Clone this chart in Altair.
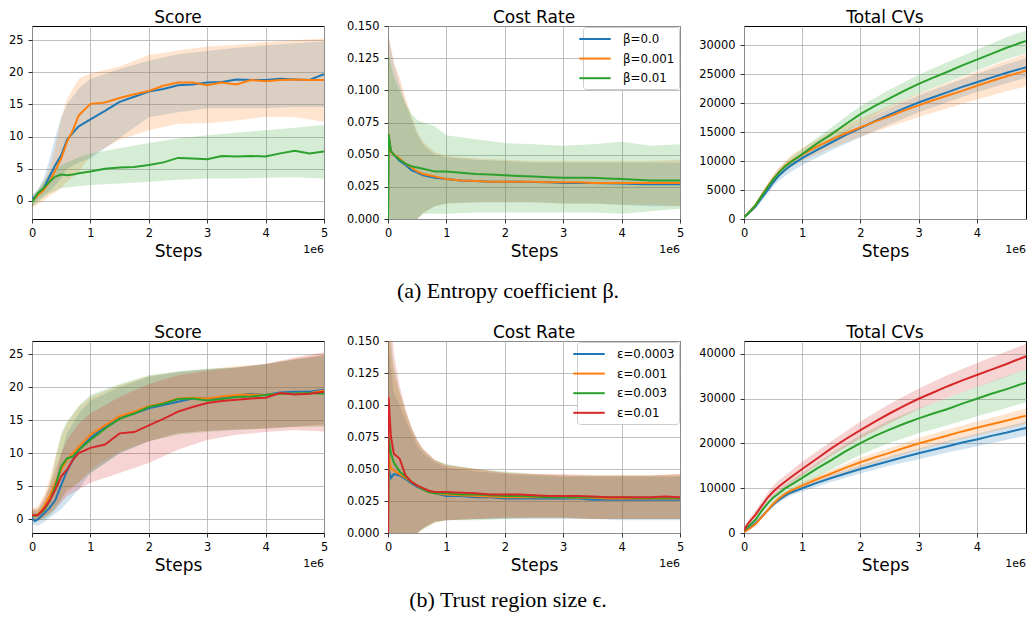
import altair as alt
import pandas as pd

# ---------------- x grids (steps, in units of 1e6) ----------------
STEPS = [0, 0.05, 0.1, 0.2, 0.3, 0.4, 0.5, 0.6, 0.7, 0.8, 1.0, 1.25, 1.5, 1.75, 2.0,
         2.25, 2.5, 2.75, 3.0, 3.25, 3.5, 3.75, 4.0, 4.25, 4.5, 4.75, 5.0]
COST_STEPS = [0, 0.01, 0.05, 0.1, 0.2, 0.3, 0.4, 0.5, 0.6, 0.7, 0.8, 1.0, 1.25, 1.5, 1.75,
              2.0, 2.25, 2.5, 2.75, 3.0, 3.25, 3.5, 3.75, 4.0, 4.25, 4.5, 4.75, 5.0]
BAND_STEPS = [0, 0.1, 0.2, 0.3, 0.4, 0.5, 0.6, 0.8, 1.0, 1.5, 2.0, 2.5, 3.0, 3.5, 4.0, 4.5, 5.0]

BETA_LABELS = ["β=0.0", "β=0.001", "β=0.01"]
EPS_LABELS = ["ε=0.0003", "ε=0.001", "ε=0.003", "ε=0.01"]
COLORS = ["#1f77b4", "#ff7f0e", "#2ca02c", "#d62728"]

PANEL_TITLES = ["Score", "Cost Rate", "Total CVs"]
X_TITLE = "Steps"
X_OFFSET_TEXT = "1e6"
CAPTION_A = "(a) Entropy coefficient β."
CAPTION_B = "(b) Trust region size ϵ."

X_TICKS = [0, 1, 2, 3, 4, 5]
SCORE_TICKS = [0, 5, 10, 15, 20, 25]
COST_TICKS = [0.0, 0.025, 0.05, 0.075, 0.1, 0.125, 0.15]
CV_TICKS_A = [0, 5000, 10000, 15000, 20000, 25000, 30000]
CV_TICKS_B = [0, 10000, 20000, 30000, 40000]

# ---------------- (a) Entropy coefficient: Score ----------------
A_SCORE_0 = [0.3, 0.6, 1.1, 2.0, 3.8, 5.6, 7.1, 9.5, 10.6, 11.6, 12.7, 14.0, 15.4, 16.2, 17.0,
             17.4, 18.0, 18.1, 18.4, 18.5, 18.9, 18.8, 18.8, 19.0, 18.9, 18.8, 19.7]
A_SCORE_1 = [0.0, 0.4, 0.9, 1.7, 3.0, 4.8, 6.6, 9.2, 11.0, 13.3, 15.1, 15.3, 16.0, 16.6, 17.1,
             17.9, 18.4, 18.4, 18.0, 18.4, 18.1, 18.8, 18.6, 18.8, 18.9, 18.8, 18.8]
A_SCORE_2 = [-0.1, 0.5, 1.2, 2.0, 3.0, 3.8, 4.1, 4.0, 4.1, 4.3, 4.6, 5.0, 5.2, 5.3, 5.6,
             6.0, 6.7, 6.6, 6.5, 7.0, 6.9, 7.0, 6.9, 7.4, 7.8, 7.4, 7.7]
A_SCORE_0_HI = [0.8, 1.8, 3.5, 6.5, 10.0, 13.0, 15.0, 17.5, 19.0, 20.5, 21.8, 22.8, 23.3, 23.8, 24.2, 24.5, 24.8]
A_SCORE_0_LO = [-0.8, 0.2, 0.8, 1.5, 2.5, 3.5, 5.0, 6.0, 6.6, 9.8, 13.0, 13.8, 14.4, 14.4, 14.4, 14.6, 14.6]
A_SCORE_1_HI = [0.5, 1.5, 3.0, 5.0, 8.5, 12.8, 15.9, 19.0, 19.8, 20.9, 22.7, 23.4, 24.0, 24.3, 24.7, 25.0, 25.3]
A_SCORE_1_LO = [-1.0, -0.5, 0.0, 0.8, 1.3, 2.0, 3.0, 4.5, 7.0, 9.5, 11.0, 12.0, 12.1, 12.5, 13.1, 13.0, 12.3]
A_SCORE_2_HI = [0.8, 1.8, 3.0, 4.3, 5.0, 5.6, 6.0, 6.8, 7.4, 8.2, 9.0, 9.7, 10.2, 10.6, 11.0, 11.4, 11.8]
A_SCORE_2_LO = [-1.0, -0.2, 0.5, 1.2, 1.6, 2.0, 2.1, 2.3, 2.5, 2.7, 3.0, 3.3, 3.5, 3.5, 3.6, 3.7, 3.5]

# ---------------- (a) Cost Rate ----------------
A_COST_0 = [0.0, 0.065, 0.052, 0.050, 0.045, 0.042, 0.038, 0.036, 0.034, 0.033, 0.032, 0.031, 0.030, 0.0295,
            0.029, 0.029, 0.029, 0.0288, 0.0285, 0.028, 0.028, 0.028, 0.0278, 0.0275, 0.0272, 0.027, 0.027, 0.027]
A_COST_1 = [0.0, 0.066, 0.052, 0.050, 0.047, 0.043, 0.040, 0.037, 0.035, 0.034, 0.033, 0.031, 0.030, 0.0295,
            0.029, 0.029, 0.029, 0.029, 0.0285, 0.0285, 0.0285, 0.028, 0.028, 0.028, 0.028, 0.028, 0.028, 0.028]
A_COST_2 = [0.0, 0.066, 0.053, 0.050, 0.046, 0.043, 0.041, 0.040, 0.039, 0.038, 0.037, 0.037, 0.036, 0.035,
            0.0345, 0.034, 0.0335, 0.033, 0.0325, 0.032, 0.032, 0.032, 0.0315, 0.031, 0.0305, 0.030, 0.030, 0.030]
A_COST_0_HI = [0.145, 0.12, 0.105, 0.09, 0.078, 0.066, 0.058, 0.050, 0.048, 0.046, 0.045, 0.044, 0.044, 0.044, 0.044, 0.044, 0.044]
A_COST_0_LO = [0.0, 0.0, 0.0, 0.0, 0.0, 0.0, 0.005, 0.010, 0.012, 0.013, 0.013, 0.013, 0.012, 0.012, 0.011, 0.010, 0.010]
A_COST_1_HI = [0.145, 0.122, 0.11, 0.094, 0.080, 0.068, 0.060, 0.052, 0.049, 0.047, 0.046, 0.045, 0.045, 0.045, 0.045, 0.045, 0.046]
A_COST_1_LO = [0.0, 0.0, 0.0, 0.0, 0.0, 0.0, 0.004, 0.010, 0.012, 0.013, 0.013, 0.013, 0.012, 0.012, 0.011, 0.011, 0.010]
A_COST_2_HI = [0.13, 0.11, 0.10, 0.09, 0.082, 0.077, 0.075, 0.072, 0.065, 0.062, 0.059, 0.058, 0.057, 0.058, 0.060, 0.057, 0.058]
A_COST_2_LO = [0.0, 0.0, 0.0, 0.0, 0.0, 0.0, 0.004, 0.004, 0.004, 0.005, 0.005, 0.005, 0.005, 0.005, 0.004, 0.006, 0.008]

# ---------------- (a) Total CVs ----------------
A_CV_0 = [300, 700, 1200, 2200, 3600, 4900, 6300, 7500, 8400, 9200, 10500, 11900, 13200, 14500, 15700,
          16900, 18000, 19100, 20100, 21000, 21900, 22800, 23600, 24400, 25200, 25900, 26600]
A_CV_1 = [300, 800, 1300, 2400, 4000, 5500, 6900, 8100, 9100, 9900, 11100, 12500, 13700, 14800, 15800,
          16800, 17700, 18700, 19600, 20500, 21300, 22100, 23000, 23800, 24600, 25300, 26100]
A_CV_2 = [300, 800, 1300, 2400, 3900, 5400, 6800, 8000, 9000, 9800, 11200, 13000, 14600, 16400, 18100,
          19500, 20800, 22100, 23300, 24400, 25400, 26500, 27500, 28500, 29500, 30400, 31200]
A_CV_0_HI = [400, 1500, 2600, 4000, 5300, 6800, 8000, 9800, 11100, 14000, 16700, 19100, 21300, 23200, 25000, 26700, 28200]
A_CV_0_LO = [200, 900, 1800, 3000, 4200, 5500, 6600, 8100, 9300, 11800, 14100, 16300, 18400, 20200, 21900, 23400, 24800]
A_CV_1_HI = [400, 1700, 2900, 4500, 6100, 7600, 8900, 10900, 12200, 15100, 17400, 19500, 21600, 23500, 25400, 27300, 29000]
A_CV_1_LO = [200, 1000, 2000, 3500, 4900, 6200, 7300, 8900, 10000, 12300, 14200, 15900, 17600, 19100, 20600, 22000, 23300]
A_CV_2_HI = [400, 1600, 2800, 4300, 5900, 7400, 8700, 10600, 12100, 15800, 19500, 22300, 24900, 27100, 29200, 31300, 33100]
A_CV_2_LO = [200, 1000, 2000, 3500, 4900, 6300, 7400, 9100, 10400, 13500, 16700, 19300, 21600, 23600, 25600, 27500, 29100]

# ---------------- (b) Trust region: Score ----------------
B_SCORE_0 = [0.2, -0.3, 0.0, 0.8, 1.7, 2.9, 5.2, 7.3, 9.0, 10.5, 12.3, 14.0, 15.5, 16.0, 16.8,
             17.3, 17.8, 18.3, 18.3, 18.4, 18.7, 19.0, 18.8, 19.2, 19.3, 19.3, 19.6]
B_SCORE_1 = [0.6, 0.6, 0.7, 1.8, 3.5, 5.5, 7.5, 9.0, 10.0, 11.0, 12.8, 14.2, 15.6, 16.3, 17.1,
             17.6, 18.3, 18.4, 18.3, 18.6, 18.8, 18.9, 18.8, 19.0, 19.0, 19.1, 19.5]
B_SCORE_2 = [0.5, 0.5, 0.6, 1.3, 2.7, 5.0, 8.0, 9.2, 9.5, 10.5, 12.0, 13.7, 15.2, 16.0, 17.0,
             17.5, 18.2, 18.3, 18.0, 18.2, 18.5, 18.6, 18.8, 19.0, 19.0, 19.1, 19.0]
B_SCORE_3 = [0.6, 0.6, 0.6, 1.5, 2.8, 4.5, 6.5, 7.5, 9.0, 10.0, 10.8, 11.3, 13.0, 13.2, 14.2,
             15.2, 16.3, 17.0, 17.6, 17.9, 18.1, 18.3, 18.4, 19.1, 18.9, 19.0, 19.3]
B_SCORE_0_HI = [1.0, 1.0, 2.0, 3.5, 6.0, 10.0, 13.0, 16.0, 18.0, 20.0, 21.6, 22.3, 22.7, 23.0, 23.5, 24.2, 24.8]
B_SCORE_0_LO = [-0.8, -1.0, -0.5, 0.2, 0.8, 1.5, 2.5, 4.5, 7.0, 10.0, 11.8, 13.0, 13.4, 13.6, 13.7, 14.0, 14.4]
B_SCORE_1_HI = [1.5, 2.0, 3.5, 6.0, 9.5, 12.5, 14.5, 17.0, 18.5, 20.3, 21.7, 22.3, 22.7, 23.2, 23.5, 24.3, 25.0]
B_SCORE_1_LO = [-0.3, -0.3, 0.3, 1.0, 2.0, 3.0, 4.0, 5.5, 7.5, 10.3, 11.8, 13.0, 13.4, 13.6, 13.7, 14.0, 14.2]
B_SCORE_2_HI = [1.2, 1.5, 2.8, 5.0, 9.0, 13.0, 14.8, 17.2, 18.8, 20.5, 21.8, 22.4, 22.8, 23.0, 23.5, 24.2, 24.8]
B_SCORE_2_LO = [-0.3, -0.3, 0.0, 0.5, 1.5, 3.0, 4.5, 5.5, 7.0, 10.0, 11.8, 12.8, 13.2, 13.5, 13.8, 14.0, 14.0]
B_SCORE_3_HI = [1.5, 1.5, 3.0, 5.0, 7.5, 10.0, 12.0, 14.5, 16.0, 18.5, 20.5, 21.8, 22.5, 23.0, 23.5, 24.5, 25.3]
B_SCORE_3_LO = [-0.3, -0.3, 0.2, 0.8, 1.5, 2.5, 3.5, 4.5, 5.5, 7.0, 8.5, 10.5, 12.0, 12.8, 13.2, 13.5, 13.3]

# ---------------- (b) Cost Rate ----------------
B_COST_0 = [0.0, 0.050, 0.043, 0.046, 0.045, 0.042, 0.039, 0.036, 0.034, 0.032, 0.031, 0.029, 0.029, 0.028,
            0.028, 0.027, 0.027, 0.027, 0.027, 0.027, 0.027, 0.026, 0.026, 0.026, 0.026, 0.026, 0.026, 0.026]
B_COST_1 = [0.0, 0.062, 0.050, 0.049, 0.046, 0.043, 0.040, 0.037, 0.034, 0.032, 0.031, 0.030, 0.0295, 0.029,
            0.0285, 0.028, 0.028, 0.028, 0.028, 0.028, 0.0275, 0.0275, 0.027, 0.027, 0.027, 0.027, 0.027, 0.027]
B_COST_2 = [0.0, 0.075, 0.062, 0.055, 0.048, 0.044, 0.040, 0.037, 0.034, 0.032, 0.031, 0.031, 0.030, 0.030,
            0.0295, 0.029, 0.029, 0.0285, 0.028, 0.028, 0.028, 0.028, 0.028, 0.028, 0.0275, 0.0275, 0.0275, 0.0275]
B_COST_3 = [0.0, 0.106, 0.075, 0.062, 0.058, 0.045, 0.040, 0.037, 0.035, 0.033, 0.032, 0.032, 0.0315, 0.031,
            0.030, 0.030, 0.030, 0.0295, 0.029, 0.029, 0.029, 0.0285, 0.028, 0.028, 0.028, 0.028, 0.0285, 0.028]
B_COST_0_HI = [0.15, 0.11, 0.10, 0.088, 0.078, 0.068, 0.062, 0.055, 0.051, 0.048, 0.046, 0.045, 0.044, 0.044, 0.044, 0.044, 0.044]
B_COST_0_LO = [0.0, 0.0, 0.0, 0.0, 0.0, 0.0, 0.004, 0.009, 0.010, 0.011, 0.011, 0.011, 0.011, 0.011, 0.010, 0.010, 0.010]
B_COST_1_HI = [0.16, 0.125, 0.11, 0.095, 0.082, 0.072, 0.065, 0.057, 0.053, 0.050, 0.047, 0.046, 0.045, 0.045, 0.045, 0.045, 0.046]
B_COST_1_LO = [0.0, 0.0, 0.0, 0.0, 0.0, 0.0, 0.003, 0.008, 0.010, 0.011, 0.012, 0.012, 0.012, 0.011, 0.011, 0.011, 0.011]
B_COST_2_HI = [0.17, 0.13, 0.11, 0.095, 0.082, 0.072, 0.065, 0.057, 0.054, 0.050, 0.048, 0.046, 0.045, 0.045, 0.045, 0.045, 0.045]
B_COST_2_LO = [0.0, 0.0, 0.0, 0.0, 0.0, 0.0, 0.003, 0.008, 0.010, 0.010, 0.011, 0.012, 0.012, 0.011, 0.011, 0.011, 0.011]
B_COST_3_HI = [0.2, 0.14, 0.115, 0.097, 0.083, 0.073, 0.066, 0.057, 0.053, 0.050, 0.047, 0.046, 0.046, 0.045, 0.045, 0.045, 0.046]
B_COST_3_LO = [0.0, 0.0, 0.0, 0.0, 0.0, 0.0, 0.004, 0.009, 0.010, 0.011, 0.012, 0.012, 0.012, 0.011, 0.011, 0.011, 0.011]

# ---------------- (b) Total CVs ----------------
B_CV_0 = [300, 700, 1200, 2200, 3600, 5000, 6300, 7400, 8300, 9000, 10000, 11200, 12300, 13300, 14300,
          15200, 16100, 17000, 17800, 18600, 19400, 20200, 20900, 21700, 22400, 23200, 23900]
B_CV_1 = [200, 600, 1000, 2000, 3500, 5000, 6500, 7700, 8700, 9400, 10600, 12000, 13300, 14600, 15800,
          16900, 17900, 19000, 20000, 20900, 21800, 22700, 23500, 24300, 25100, 25900, 26700]
B_CV_2 = [400, 1200, 1800, 3000, 4900, 6500, 7900, 8900, 9900, 10700, 12300, 14400, 16300, 18300, 20100,
          21700, 23100, 24400, 25600, 26700, 27700, 28900, 30000, 31100, 32100, 33200, 34200]
B_CV_3 = [500, 1800, 2600, 4100, 6000, 7800, 9200, 10400, 11400, 12400, 14300, 16600, 18900, 21000, 23000,
          24900, 26700, 28400, 30000, 31400, 32800, 34100, 35300, 36500, 37700, 39000, 40200]
B_CV_0_HI = [400, 1400, 2500, 3900, 5400, 6700, 7900, 9600, 10600, 13000, 15200, 17100, 18900, 20600, 22200, 23800, 25400]
B_CV_0_LO = [200, 1000, 1900, 3200, 4500, 5800, 6800, 8300, 9300, 11400, 13300, 15000, 16500, 18000, 19400, 20800, 22200]
B_CV_1_HI = [300, 1200, 2300, 3800, 5400, 6900, 8200, 10000, 11300, 14100, 16800, 19000, 21200, 23100, 24900, 26600, 28300]
B_CV_1_LO = [100, 800, 1700, 3100, 4500, 5900, 7100, 8700, 9800, 12300, 14600, 16600, 18500, 20200, 21800, 23300, 24800]
B_CV_2_HI = [500, 2100, 3400, 5400, 7100, 8600, 9700, 11700, 13400, 17800, 21900, 25200, 27900, 30200, 32700, 35000, 37300]
B_CV_2_LO = [300, 1500, 2500, 4200, 5600, 6800, 7700, 9300, 10700, 14200, 17500, 20100, 22300, 24100, 26100, 27900, 29800]
B_CV_3_HI = [1200, 3400, 5000, 7000, 8900, 10500, 11800, 13800, 15900, 20500, 24900, 28800, 32300, 35300, 38000, 40500, 43000]
B_CV_3_LO = [200, 2000, 3400, 5200, 6900, 8200, 9300, 11000, 12800, 17300, 21100, 24500, 27700, 30300, 32600, 34900, 37300]

FONT = "DejaVu Sans"
SERIF = "Liberation Serif"
PANEL_W = [292, 292, 282]        # last panel is cut at the window edge, as in the figure
LAST_X_MAX = 4.845               # visible part of the last panel's step axis
ROW_H = [193, 192]
COL_SPACING = 64
ROW_SPACING = 122
TITLE_OFFSET = -1
COST_TITLE_OFFSET = -6.8         # compensates the "0.150" label sticking out above the frame


def make_panel(title, line_steps, line_series, band_lo, band_hi, labels, y_domain,
               y_ticks, y_format, width, height, title_offset, x_max=5, legend=False,
               caption=None, caption_xy=(0, 0)):
    colors = COLORS[:len(labels)]
    xenc = alt.X("step:Q", scale=alt.Scale(domain=[0, x_max], nice=False, zero=False),
                 axis=alt.Axis(values=[t for t in X_TICKS if t <= x_max], format="d",
                               title=X_TITLE, labelPadding=4, titlePadding=5))
    yscale = alt.Scale(domain=y_domain, nice=False, zero=False)
    yaxis = alt.Axis(values=y_ticks, format=y_format, title=None, labelPadding=5)

    layers = []
    for name, color, lo, hi in zip(labels, colors, band_lo, band_hi):
        band_df = pd.DataFrame({"step": BAND_STEPS, "lo": lo, "hi": hi})
        layers.append(
            alt.Chart(band_df).mark_area(color=color, opacity=0.2, clip=True).encode(
                x=xenc, y=alt.Y("lo:Q", scale=yscale, axis=yaxis), y2="hi:Q"))

    line_rows = []
    for name, vals in zip(labels, line_series):
        for s, v in zip(line_steps, vals):
            line_rows.append({"step": s, "value": v, "series": name})
    if legend:
        leg = alt.Legend(title=None, orient="top-right", offset=1, fillColor="white",
                         strokeColor="#cccccc", cornerRadius=3, padding=4,
                         symbolType="M-2.25,0L2.25,0", symbolSize=196, symbolStrokeWidth=2,
                         labelFont=FONT, labelFontSize=11.8, labelColor="black",
                         labelExpr="datum.label + '  '",
                         rowPadding=4.6, labelOffset=20)
    else:
        leg = None
    layers.append(
        alt.Chart(pd.DataFrame(line_rows)).mark_line(strokeWidth=2, clip=True).encode(
            x=xenc,
            y=alt.Y("value:Q", scale=yscale, axis=yaxis),
            stroke=alt.Stroke("series:N", scale=alt.Scale(domain=labels, range=colors),
                              legend=leg)))

    layers.append(
        alt.Chart(pd.DataFrame({"t": [X_OFFSET_TEXT]})).mark_text(
            align="right", baseline="middle", font=FONT, fontSize=11, color="black"
        ).encode(text="t:N", x=alt.value(width), y=alt.value(height + 31)))

    if caption is not None:
        layers.append(
            alt.Chart(pd.DataFrame({"t": [caption]})).mark_text(
                align="center", baseline="middle", font=SERIF, fontSize=22, color="black"
            ).encode(text="t:N", x=alt.value(caption_xy[0]), y=alt.value(caption_xy[1])))

    return alt.layer(*layers).properties(
        width=width, height=height,
        title=alt.TitleParams(title, offset=title_offset))


def make_row(labels, score_lines, score_lo, score_hi, score_dom,
             cost_lines, cost_lo, cost_hi, cv_lines, cv_lo, cv_hi, cv_dom, cv_ticks,
             height, caption, caption_y):
    p1 = make_panel(PANEL_TITLES[0], STEPS, score_lines, score_lo, score_hi, labels, score_dom,
                    SCORE_TICKS, "d", PANEL_W[0], height, TITLE_OFFSET)
    p2 = make_panel(PANEL_TITLES[1], COST_STEPS, cost_lines, cost_lo, cost_hi, labels, [0, 0.15],
                    COST_TICKS, ".3f", PANEL_W[1], height, COST_TITLE_OFFSET, legend=True,
                    caption=caption, caption_xy=(120, caption_y))
    p3 = make_panel(PANEL_TITLES[2], STEPS, cv_lines, cv_lo, cv_hi, labels, cv_dom,
                    cv_ticks, "d", PANEL_W[2], height, TITLE_OFFSET, x_max=LAST_X_MAX)
    return [p1, p2, p3]


row_a = make_row(
    BETA_LABELS,
    [A_SCORE_0, A_SCORE_1, A_SCORE_2], [A_SCORE_0_LO, A_SCORE_1_LO, A_SCORE_2_LO],
    [A_SCORE_0_HI, A_SCORE_1_HI, A_SCORE_2_HI], [-2.8, 27.2],
    [A_COST_0, A_COST_1, A_COST_2], [A_COST_0_LO, A_COST_1_LO, A_COST_2_LO],
    [A_COST_0_HI, A_COST_1_HI, A_COST_2_HI],
    [A_CV_0, A_CV_1, A_CV_2], [A_CV_0_LO, A_CV_1_LO, A_CV_2_LO], [A_CV_0_HI, A_CV_1_HI, A_CV_2_HI],
    [0, 33300], CV_TICKS_A, ROW_H[0], CAPTION_A, 265)

row_b = make_row(
    EPS_LABELS,
    [B_SCORE_0, B_SCORE_1, B_SCORE_2, B_SCORE_3],
    [B_SCORE_0_LO, B_SCORE_1_LO, B_SCORE_2_LO, B_SCORE_3_LO],
    [B_SCORE_0_HI, B_SCORE_1_HI, B_SCORE_2_HI, B_SCORE_3_HI], [-2.1, 27.0],
    [B_COST_0, B_COST_1, B_COST_2, B_COST_3],
    [B_COST_0_LO, B_COST_1_LO, B_COST_2_LO, B_COST_3_LO],
    [B_COST_0_HI, B_COST_1_HI, B_COST_2_HI, B_COST_3_HI],
    [B_CV_0, B_CV_1, B_CV_2, B_CV_3], [B_CV_0_LO, B_CV_1_LO, B_CV_2_LO, B_CV_3_LO],
    [B_CV_0_HI, B_CV_1_HI, B_CV_2_HI, B_CV_3_HI],
    [0, 42900], CV_TICKS_B, ROW_H[1], CAPTION_B, 259)

chart = alt.concat(
    *(row_a + row_b), columns=3, bounds="flush",
    spacing={"row": ROW_SPACING, "column": COL_SPACING}
).resolve_scale(
    x="independent", y="independent", stroke="independent"
).properties(padding=0).configure(background="white").configure_view(
    stroke="black", strokeWidth=1
).configure_axis(
    domain=False, grid=True, gridColor="#b0b0b0", gridWidth=0.8,
    tickColor="black", tickSize=4, tickWidth=0.8,
    labelFont=FONT, labelFontSize=11.4, labelColor="black", labelFlush=False,
    titleFont=FONT, titleFontSize=17, titleFontWeight="normal", titleColor="black"
).configure_title(
    font=FONT, fontSize=17, fontWeight="normal", color="black", frame="group"
)

chart.save("out.html", embed_options={"renderer": "svg", "actions": False})
